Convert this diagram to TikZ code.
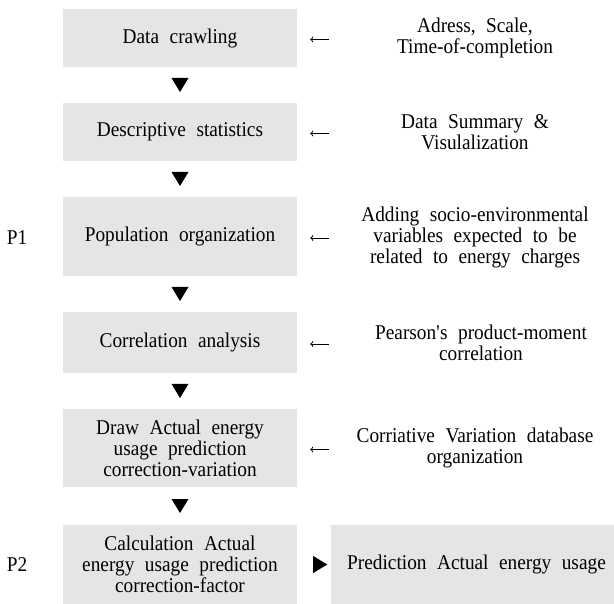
\documentclass[tikz,border=0pt]{standalone}
\usepackage{fontspec}
\setmainfont{Liberation Serif}[FakeStretch=0.92]
\usetikzlibrary{calc,arrows.meta}
\definecolor{stepgray}{HTML}{E5E5E5}

\begin{document}
\begin{tikzpicture}[x=1pt, y=-1pt,
  every node/.style={font=\fontsize{21}{21}\selectfont, execute at begin node={\spaceskip=.5em\relax}},
  stage/.style={fill=stepgray, minimum width=234pt, minimum height=58pt, inner sep=0pt, align=center},
  note/.style={align=center, inner sep=0pt},
  feed/.style={line width=.7pt, -{To[length=3pt,width=6pt]}}]
  \useasboundingbox (0,0) rectangle (614,604);

  % Left column: the steps of the procedure
  \node[stage] (s1) at (180,38) {Data crawling};
  \node[stage] (s2) at (180,132) {Descriptive statistics};
  \node[stage, minimum height=79pt] (s3) at (180,236.5) {Population organization};
  \node[stage, minimum height=61pt] (s4) at (180,342.5) {Correlation analysis};
  \node[stage, minimum height=78pt] (s5) at (180,448) {Draw Actual energy\\usage prediction\\correction-variation};
  \node[stage, minimum height=79pt] (s6) at (180,564.5) {Calculation Actual\\energy usage prediction\\correction-factor};

  % Phase labels
  \node (p1) at (17,238) {P1};
  \node (p2) at (17,565) {P2};

  % Right column: what goes into each step
  \node[note] (n1) at (475,38) {Adress, Scale,\\Time-of-completion};
  \node[note] (n2) at (475,132) {Data Summary \&\\Visulalization};
  \node[note] (n3) at (475,237) {Adding socio-environmental\\variables expected to be\\related to energy charges};
  \node[note, execute at begin node={}] (n4) at (481,342.5) {Pearson\textquotesingle s product-moment\\correlation};
  \node[note] (n5) at (475,448) {Corriative Variation database\\organization};

  % Result of the last step
  \node[stage, minimum width=283pt, minimum height=79pt] (res) at (472.5,564.5) {\hspace*{8pt}Prediction Actual energy usage};

  % Small arrows from the notes
  \foreach \i in {1,...,5}
    \draw[feed] ($(s\i.east)+(32,1.5)$) -- ($(s\i.east)+(13,1.5)$);

  % Black triangles between the steps
  \foreach \a/\b in {s1/s2,s2/s3,s3/s4,s4/s5,s5/s6}
    \fill ($(\a.south)!.5!(\b.north)$) ++(-8.5,-7) -- ++(17,0) -- ++(-8.5,14) -- cycle;
  \fill ($(s6.east)+(23,0)$) ++(-7,-8.5) -- ++(14,8.5) -- ++(-14,8.5) -- cycle;
\end{tikzpicture}
\end{document}
